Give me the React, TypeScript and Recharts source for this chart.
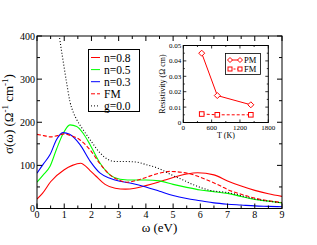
import React from 'react';
import { ComposedChart, LineChart, Line, XAxis, YAxis } from 'recharts';

// ---- main plot data (omega in eV, sigma in 1/(Ohm cm)) ----
const omegaN08 = [0, 0.2, 0.5, 1.0, 1.3, 1.6, 1.95, 2.15, 2.5, 2.87, 3.25, 3.6, 4.0, 4.45, 4.7, 5.0, 5.5, 5.9, 6.5, 7.0, 7.5, 8.0, 8.5, 9.0];
const sigmaN08 = [22, 35, 62, 90, 100, 105, 88, 76, 56, 47, 45, 47, 53, 61, 66, 72, 80, 83, 78, 64, 52, 42, 34, 28];

const omegaN05 = [0, 0.23, 0.48, 0.72, 0.97, 1.21, 1.46, 1.7, 1.95, 2.32, 2.68, 3.05, 3.6, 4.0, 4.5, 5.0, 5.5, 6.0, 6.5, 7.0, 7.5, 8.0, 8.5, 9.0];
const sigmaN05 = [61, 78, 98, 138, 175, 194, 190, 174, 148, 105, 78, 68, 66, 66, 64, 56, 49, 43, 39, 35, 28, 21, 17, 13];

const omegaN03 = [0, 0.23, 0.48, 0.72, 0.95, 1.2, 1.58, 1.95, 2.32, 2.68, 3.05, 3.5, 4.0, 4.5, 5.0, 5.5, 6.0, 6.5, 7.0, 7.5, 8.0, 8.5, 9.0];
const sigmaN03 = [82, 103, 125, 160, 176, 172, 148, 110, 82, 70, 63, 58, 50, 40, 30, 23, 18, 13, 10, 8, 6, 5, 4];

const omegaFM = [0, 0.25, 0.5, 0.75, 1.0, 1.2, 1.58, 1.95, 2.3, 2.68, 3.05, 3.3, 3.8, 4.5, 4.9, 5.3, 5.75, 6.25, 6.75, 7.0, 7.5, 8.0, 8.5, 9.0];
const sigmaFM = [172, 169, 166, 169, 173, 170, 159, 136, 105, 78, 65, 61, 68, 82, 86, 84, 78, 66, 52, 44, 33, 24, 18, 14];

const omegaG0 = [0.6, 0.7, 0.82, 0.97, 1.09, 1.21, 1.34, 1.46, 1.7, 2.0, 2.3, 2.6, 2.9, 3.2, 3.6, 4.0, 4.46, 4.7, 5.0, 5.3, 5.75, 6.36, 7.0, 8.0, 9.0];
const sigmaG0 = [520, 460, 400, 338, 291, 248, 222, 206, 182, 155, 130, 114, 109, 109, 108, 102, 93, 86, 76, 68, 55, 42, 37, 22, 13];

const mainXTicks = [0, 0.5, 1, 1.5, 2, 2.5, 3, 3.5, 4, 4.5, 5, 5.5, 6, 6.5, 7, 7.5, 8, 8.5, 9];
const mainYTicks = [0, 50, 100, 150, 200, 250, 300, 350, 400];

// ---- inset data (temperature K, resistivity Ohm cm) ----
const tempK = [390, 720, 1430];
const rhoPM = [0.045, 0.0175, 0.0115];
const rhoFM = [0.0055, 0.005, 0.005];
const insetXTicks = [0, 300, 600, 900, 1200, 1500, 1800];
const insetYTicks = [0, 0.005, 0.01, 0.015, 0.02, 0.025, 0.03, 0.035, 0.04, 0.045, 0.05];

const legendMain = [
  { label: 'n=0.8', color: '#ff0000', dash: undefined as string | undefined },
  { label: 'n=0.5', color: '#00ff00', dash: undefined },
  { label: 'n=0.3', color: '#0000ff', dash: undefined },
  { label: 'FM', color: '#ff0000', dash: '4 2' },
  { label: 'g=0.0', color: '#000000', dash: '1 2' },
];

const pts = (xs: number[], ys: number[]) => xs.map((x, i) => ({ x, y: ys[i] }));

const FONT = '"Liberation Serif", "DejaVu Serif", serif';

const W = 317;
const H = 245;
// plot area: left 37, right 282, top 36, bottom 208.5
const XAH = 20; // x axis band height
const YAW = 30; // y axis band width
const MM = { top: 36, right: 35, bottom: 36.5 - XAH, left: 37 - YAW };
const PL = 37;
const PT = 36;
const PW = W - 37 - 35;
const PH = H - 36 - 36.5;

const isMult = (v: number, step: number) => Math.abs(v / step - Math.round(v / step)) < 1e-6;

const MainXTick = (props: any) => {
  const { x, y, payload } = props;
  const v = payload.value as number;
  const major = isMult(v, 1);
  const len = major ? 5 : 3;
  return (
    <g>
      <line x1={x} y1={y} x2={x} y2={y - len} stroke="#000" strokeWidth={1} />
      <line x1={x} y1={y - PH} x2={x} y2={y - PH + len} stroke="#000" strokeWidth={1} />
      {major && (
        <text x={x} y={y + 9.5} textAnchor="middle" fontSize={10} fontFamily={FONT} fill="#000">
          {v}
        </text>
      )}
    </g>
  );
};

const MainYTick = (props: any) => {
  const { x, y, payload } = props;
  const v = payload.value as number;
  const major = isMult(v, 100);
  const len = major ? 5 : 3;
  return (
    <g>
      <line x1={x} y1={y} x2={x + len} y2={y} stroke="#000" strokeWidth={1} />
      <line x1={x + PW} y1={y} x2={x + PW - len} y2={y} stroke="#000" strokeWidth={1} />
      {major && (
        <text x={x - 2} y={y + 3.5} textAnchor="end" fontSize={10} fontFamily={FONT} fill="#000">
          {v}
        </text>
      )}
    </g>
  );
};

// inset geometry: plot area left 183.3, right 268.3, top 45.5, bottom 122.5
const IL = 150;
const IT = 35;
const IW = 140;
const IH = 110;
const IXAH = 10;
const IYAW = 20;
const IM = { top: 10.5, right: 21.7, bottom: 22.5 - IXAH, left: 33.3 - IYAW };
const IPW = IW - 33.3 - 21.7;
const IPH = IH - 10.5 - 22.5;

const InsetXTick = (props: any) => {
  const { x, y, payload } = props;
  const v = payload.value as number;
  const major = isMult(v, 600);
  const len = major ? 3 : 1.5;
  return (
    <g>
      <line x1={x} y1={y} x2={x} y2={y - len} stroke="#000" strokeWidth={0.8} />
      <line x1={x} y1={y - IPH} x2={x} y2={y - IPH + len} stroke="#000" strokeWidth={0.8} />
      {major && (
        <text x={x} y={y + 7} textAnchor="middle" fontSize={7} fontFamily={FONT} fill="#000">
          {v}
        </text>
      )}
    </g>
  );
};

const InsetYTick = (props: any) => {
  const { x, y, payload } = props;
  const v = payload.value as number;
  const major = isMult(v, 0.01);
  const len = major ? 3 : 1.5;
  return (
    <g>
      <line x1={x} y1={y} x2={x + len} y2={y} stroke="#000" strokeWidth={0.8} />
      <line x1={x + IPW} y1={y} x2={x + IPW - len} y2={y} stroke="#000" strokeWidth={0.8} />
      {major && (
        <text x={x - 2} y={y + 2.5} textAnchor="end" fontSize={7} fontFamily={FONT} fill="#000">
          {v === 0 ? '0' : v.toFixed(2)}
        </text>
      )}
    </g>
  );
};

const diamondPath = (cx: number, cy: number, r: number) =>
  `M${cx},${cy - r}L${cx + r},${cy}L${cx},${cy + r}L${cx - r},${cy}Z`;

const DiamondDot = (props: any) => {
  const { cx, cy, index } = props;
  return <path key={`d${index}`} d={diamondPath(cx, cy, 3)} fill="#fff" stroke="#ff0000" strokeWidth={1} />;
};

const SquareDot = (props: any) => {
  const { cx, cy, index } = props;
  return <rect key={`s${index}`} x={cx - 2.3} y={cy - 2.3} width={4.6} height={4.6} fill="#fff" stroke="#ff0000" strokeWidth={1} />;
};

export default function App() {
  const n08 = pts(omegaN08, sigmaN08);
  const n05 = pts(omegaN05, sigmaN05);
  const n03 = pts(omegaN03, sigmaN03);
  const fm = pts(omegaFM, sigmaFM);
  const g0 = pts(omegaG0, sigmaG0);
  const pm = pts(tempK, rhoPM);
  const fmR = pts(tempK, rhoFM);

  const legendFont = 11.5;
  const legendStep = 12.1;

  return (
    <div style={{ position: 'absolute', left: 0, top: 0, width: W, height: H, background: '#fff' }}>
      <div style={{ position: 'absolute', left: 0, top: 0 }}>
        <ComposedChart width={W} height={H} margin={MM}>
          <XAxis
            dataKey="x"
            type="number"
            domain={[0, 9]}
            ticks={mainXTicks}
            interval={0}
            allowDataOverflow
            height={XAH}
            tickSize={0}
            tickMargin={0}
            axisLine={false}
            tickLine={false}
            tick={<MainXTick />}
          />
          <YAxis
            type="number"
            domain={[0, 400]}
            ticks={mainYTicks}
            interval={0}
            allowDataOverflow
            width={YAW}
            tickSize={0}
            tickMargin={0}
            axisLine={false}
            tickLine={false}
            tick={<MainYTick />}
          />
          <Line data={n08} dataKey="y" type="monotone" stroke="#ff0000" strokeWidth={1.1} dot={false} isAnimationActive={false} />
          <Line data={n05} dataKey="y" type="monotone" stroke="#00ff00" strokeWidth={1.1} dot={false} isAnimationActive={false} />
          <Line data={n03} dataKey="y" type="monotone" stroke="#0000ff" strokeWidth={1.1} dot={false} isAnimationActive={false} />
          <Line data={fm} dataKey="y" type="monotone" stroke="#ff0000" strokeWidth={1.1} strokeDasharray="4 2" dot={false} isAnimationActive={false} />
          <Line data={g0} dataKey="y" type="monotone" stroke="#000000" strokeWidth={1.1} strokeDasharray="1 2" dot={false} isAnimationActive={false} />
        </ComposedChart>
      </div>
      <svg width={W} height={H} style={{ position: 'absolute', left: 0, top: 0, pointerEvents: 'none' }}>
        <rect x={PL} y={PT} width={PW} height={PH} fill="none" stroke="#000" strokeWidth={1} />
      </svg>
      <div style={{ position: 'absolute', left: IL, top: IT }}>
        <svg width={IW} height={IH} style={{ position: 'absolute', left: 0, top: 0 }}>
          <rect x={33.3} y={10.5} width={IPW} height={IPH} fill="#fff" stroke="#000" strokeWidth={1} />
        </svg>
        <div style={{ position: 'absolute', left: 0, top: 0 }}>
          <LineChart width={IW} height={IH} margin={IM}>
            <XAxis
              dataKey="x"
              type="number"
              domain={[0, 1800]}
              ticks={insetXTicks}
              interval={0}
              allowDataOverflow
              height={IXAH}
              tickSize={0}
              tickMargin={0}
              axisLine={false}
              tickLine={false}
              tick={<InsetXTick />}
            />
            <YAxis
              type="number"
              domain={[0, 0.05]}
              ticks={insetYTicks}
              interval={0}
              allowDataOverflow
              width={IYAW}
              tickSize={0}
              tickMargin={0}
              axisLine={false}
              tickLine={false}
              tick={<InsetYTick />}
            />
            <Line data={pm} dataKey="y" type="linear" stroke="#ff0000" strokeWidth={1} dot={<DiamondDot />} isAnimationActive={false} />
            <Line data={fmR} dataKey="y" type="linear" stroke="#ff0000" strokeWidth={1} strokeDasharray="3 2" dot={<SquareDot />} isAnimationActive={false} />
          </LineChart>
        </div>
      </div>
      <svg width={W} height={H} style={{ position: 'absolute', left: 0, top: 0, pointerEvents: 'none' }}>
        {/* main axis labels */}
        <text x={159.5} y={232} textAnchor="middle" fontSize={13} fontFamily={FONT} fill="#000">
          ω (eV)
        </text>
        <text transform="translate(13,114) rotate(-90)" textAnchor="middle" fontSize={13} fontFamily={FONT} fill="#000">
          σ(ω) (Ω<tspan dy={-5} fontSize={9}>-1</tspan>
          <tspan dy={5}> cm</tspan>
          <tspan dy={-5} fontSize={9}>-1</tspan>
          <tspan dy={5}>)</tspan>
        </text>
        {/* main legend */}
        <rect x={88.5} y={49.5} width={51} height={62} fill="#fff" stroke="#000" strokeWidth={1} />
        {legendMain.map((e, i) => {
          const cy = 57.5 + i * legendStep;
          return (
            <g key={e.label}>
              <line x1={91} y1={cy} x2={100} y2={cy} stroke={e.color} strokeWidth={1} strokeDasharray={e.dash} />
              <text x={104} y={cy + 4} fontSize={legendFont} fontFamily={FONT} fill="#000">
                {e.label}
              </text>
            </g>
          );
        })}
        {/* inset axis labels */}
        <text x={226} y={137.5} textAnchor="middle" fontSize={8} fontFamily={FONT} fill="#000">
          T (K)
        </text>
        <text transform="translate(165,84) rotate(-90)" textAnchor="middle" fontSize={8} fontFamily={FONT} fill="#000">
          Resistivity (Ω cm)
        </text>
        {/* inset legend */}
        <rect x={225.5} y={53.5} width={35} height={21} fill="#fff" stroke="#000" strokeWidth={0.8} />
        <line x1={230} y1={60} x2={240} y2={60} stroke="#ff0000" strokeWidth={1} />
        <path d={diamondPath(230, 60, 2.5)} fill="#fff" stroke="#ff0000" strokeWidth={1} />
        <path d={diamondPath(240, 60, 2.5)} fill="#fff" stroke="#ff0000" strokeWidth={1} />
        <text x={244} y={63} fontSize={8.5} fontFamily={FONT} fill="#000">PM</text>
        <line x1={230} y1={69} x2={240} y2={69} stroke="#ff0000" strokeWidth={1} strokeDasharray="2 1.5" />
        <rect x={228} y={67} width={4} height={4} fill="#fff" stroke="#ff0000" strokeWidth={1} />
        <rect x={238} y={67} width={4} height={4} fill="#fff" stroke="#ff0000" strokeWidth={1} />
        <text x={244} y={72} fontSize={8.5} fontFamily={FONT} fill="#000">FM</text>
      </svg>
    </div>
  );
}
